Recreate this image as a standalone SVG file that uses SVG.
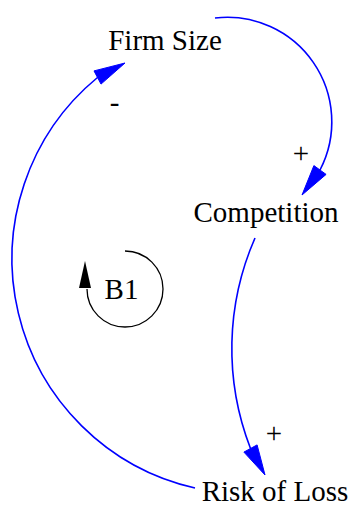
<svg xmlns="http://www.w3.org/2000/svg" width="354" height="506" viewBox="0 0 354 506">
<style>
.t{font-family:'Liberation Serif','DejaVu Serif',serif;font-size:29px;fill:#000;text-anchor:middle}
.link{fill:none;stroke:#0000ff;stroke-width:1.6}
.head{fill:#0000ff;stroke:#0000ff;stroke-width:1}
.loop{fill:none;stroke:#000;stroke-width:1.3}
</style>
<rect width="354" height="506" fill="#fff"/>
<g id="connectors">
<path class="link" d="M215,18 A104.5,104.5 0 0 1 320,170"/>
<polygon class="head" points="302,195 326.1,174.4 313.9,165.6"/>
<path class="link" d="M255,238 A276,276 0 0 0 250.5,448.5"/>
<polygon class="head" points="265,475 257.1,444.9 243.9,452.1"/>
<path class="link" d="M195,488 A235,235 0 0 1 97.5,77.5"/>
<polygon class="head" points="125,63 101,84.1 94,70.9"/>
<text x="114.5" y="112" class="t" font-family="Liberation Serif, serif">-</text>
<text x="301" y="163" class="t" font-family="Liberation Serif, serif">+</text>
<text x="274" y="443" class="t" font-family="Liberation Serif, serif">+</text>
</g>
<g id="firm-size"><text x="165" y="50" class="t" font-family="Liberation Serif, serif">Firm Size</text></g>
<g id="competition"><text x="266" y="222" class="t" font-family="Liberation Serif, serif">Competition</text></g>
<g id="risk-of-loss"><text x="275" y="501" class="t" font-family="Liberation Serif, serif">Risk of Loss</text></g>
<g id="loop-b1">
<path class="loop" d="M125,251 A38,38 0 1 1 87,289"/>
<polygon points="85,261 79,288 91,288" fill="#000"/>
<text x="121.5" y="299" class="t" font-family="Liberation Serif, serif">B1</text>
</g>
</svg>
